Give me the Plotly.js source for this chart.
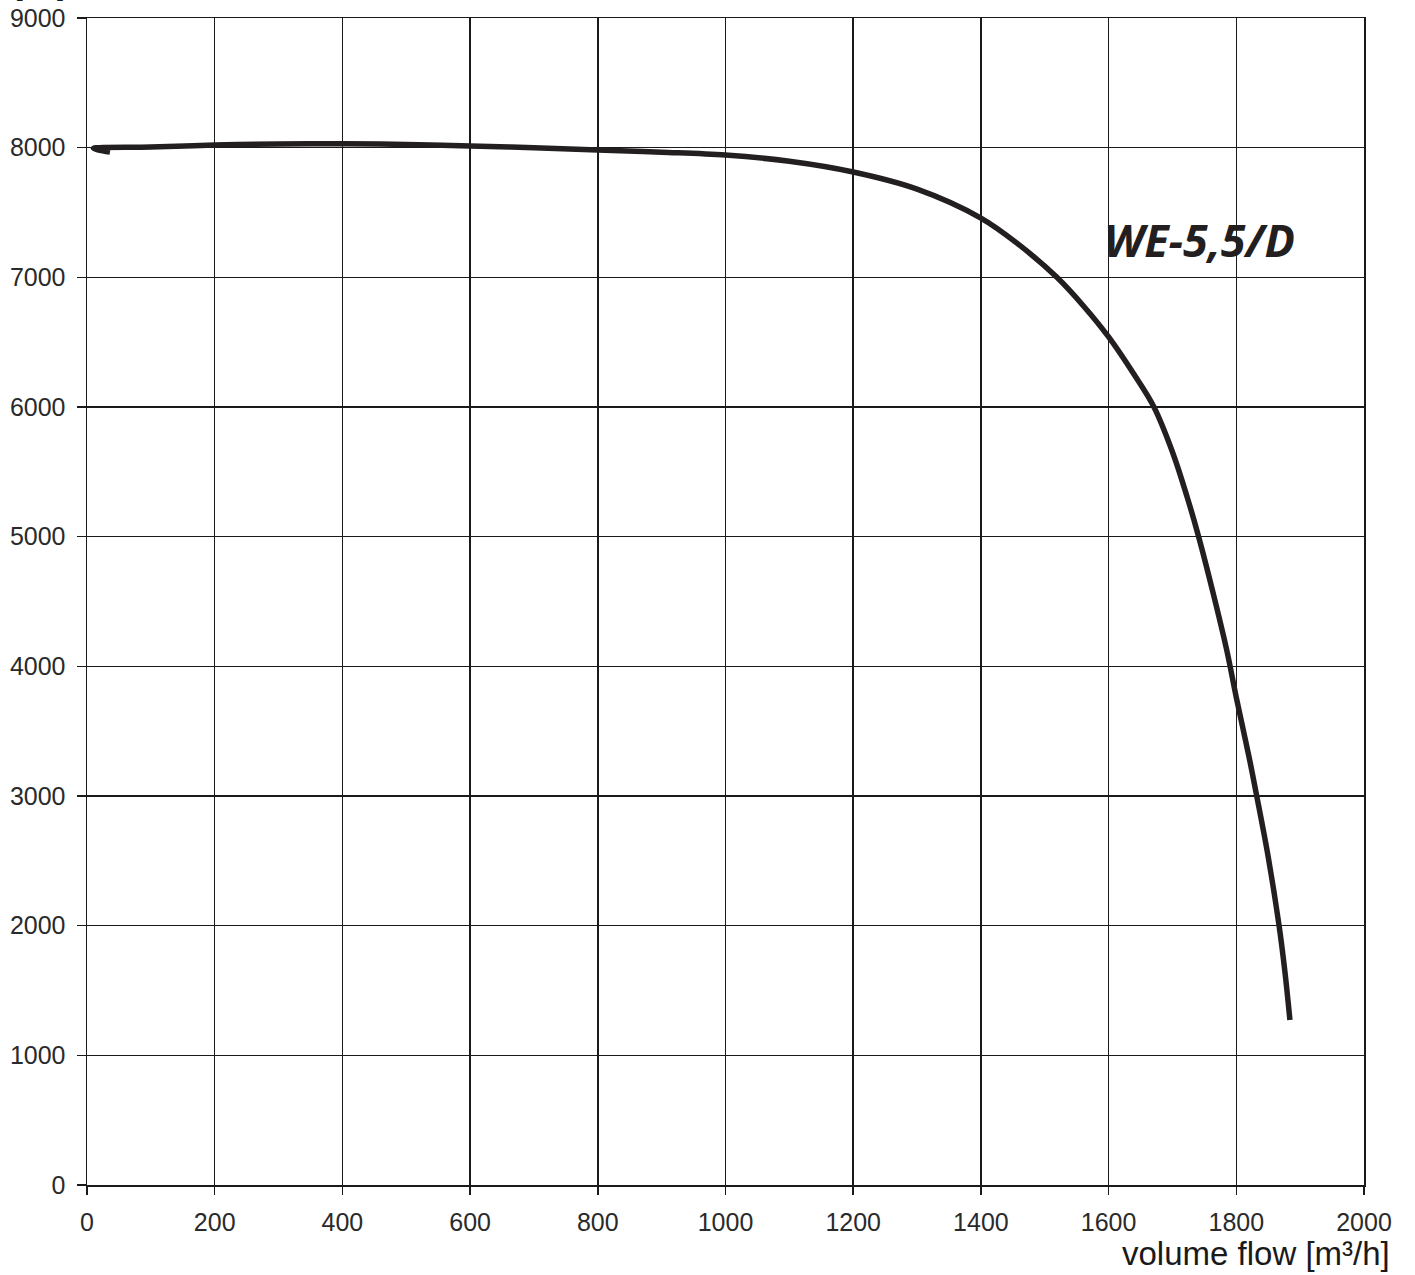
<!DOCTYPE html>
<html>
<head>
<meta charset="utf-8">
<script src="https://cdn.plot.ly/plotly-3.0.1.min.js"></script>
<style>html,body{margin:0;padding:0;background:#fff;}#chart{width:1415px;height:1275px;}</style>
</head>
<body>
<div id="chart"></div>
<script>
// volume flow [m3/h]
const flow = [36, 10, 100, 200, 300, 400, 500, 600, 700, 800, 900, 1000, 1100, 1200, 1300, 1400, 1460, 1519, 1560, 1600, 1640, 1671, 1701, 1723, 1741, 1765, 1785, 1800, 1820, 1832, 1850, 1867, 1876, 1884];
// static pressure [Pa]
const pressure = [7966, 7995, 8005, 8020, 8028, 8030, 8025, 8012, 8000, 7982, 7965, 7943, 7895, 7812, 7680, 7457, 7250, 7000, 6783, 6540, 6250, 6000, 5640, 5306, 5000, 4540, 4126, 3760, 3300, 3000, 2530, 2000, 1650, 1272];
const xTicks = [0, 200, 400, 600, 800, 1000, 1200, 1400, 1600, 1800, 2000];
const yTicks = [0, 1000, 2000, 3000, 4000, 5000, 6000, 7000, 8000, 9000];
const curveLabel = "WE-5,5/D";
const xTitle = "volume flow [m³/h]";
const yTitle = "[Pa]";

const font = {family: "Liberation Sans, Arial, sans-serif", size: 25, color: "#2a2a2a"};

const trace = {
  x: flow, y: pressure, type: "scatter", mode: "lines",
  line: {color: "#231f20", width: 5.5, shape: "spline", smoothing: 1},
  hoverinfo: "none", showlegend: false
};

const layout = {
  width: 1415, height: 1275,
  margin: {l: 87, r: 51, t: 18, b: 90, pad: 0},
  paper_bgcolor: "#fff", plot_bgcolor: "#fff",
  showlegend: false,
  xaxis: {
    range: [0, 2000], tickvals: xTicks, ticktext: xTicks.map(String),
    showgrid: true, gridcolor: "#1a1a1a", gridwidth: 1.5,
    showline: true, linecolor: "#1a1a1a", linewidth: 1.5, mirror: true,
    ticks: "outside", ticklen: 8, tickcolor: "#1a1a1a", tickwidth: 1.5,
    ticklabelstandoff: 6,
    tickfont: font, zeroline: false, fixedrange: true
  },
  yaxis: {
    range: [0, 9000], tickvals: yTicks, ticktext: yTicks.map(String),
    showgrid: true, gridcolor: "#1a1a1a", gridwidth: 1.5,
    showline: true, linecolor: "#1a1a1a", linewidth: 1.5, mirror: true,
    ticks: "outside", ticklen: 9, tickcolor: "#1a1a1a", tickwidth: 1.5,
    ticklabelstandoff: 6,
    tickfont: font, zeroline: false, fixedrange: true
  },
  annotations: [
    {text: "<b><i>" + curveLabel + "</i></b>", x: 1743, y: 7288, xref: "x", yref: "y",
     showarrow: false, font: {family: "Open Sans, Noto Sans, sans-serif", size: 45, color: "#231f20"}},
    {text: xTitle, x: 1.0219, y: -0.0585, xref: "paper", yref: "paper", xanchor: "right", yanchor: "middle",
     showarrow: false, font: {family: "Liberation Sans, Arial, sans-serif", size: 33, color: "#1a1a1a"}},
    {text: yTitle, x: -0.0368, y: 1.0125, xref: "paper", yref: "paper", xanchor: "center", yanchor: "bottom",
     showarrow: false, font: {family: "Liberation Sans, Arial, sans-serif", size: 28, color: "#1a1a1a"}}
  ]
};

Plotly.newPlot("chart", [trace], layout, {staticPlot: true, displayModeBar: false});
</script>
</body>
</html>
